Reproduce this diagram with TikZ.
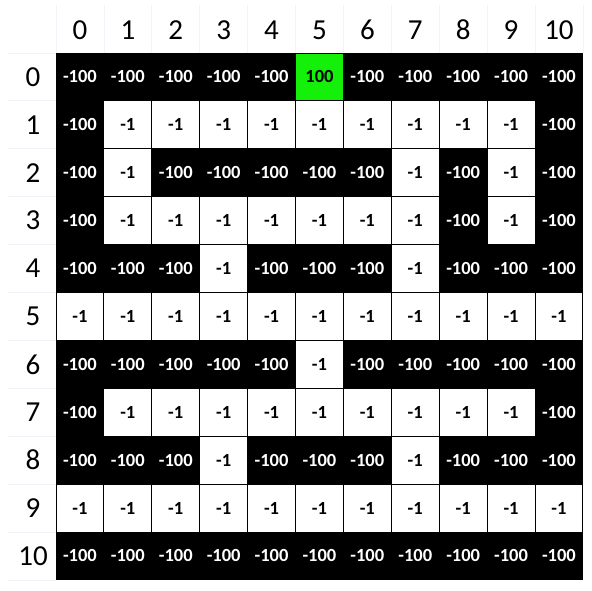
\documentclass[tikz,border=0pt]{standalone}
\usepackage{fontspec}
\setmainfont{Carlito}
\definecolor{goalgreen}{RGB}{20,240,10}
\definecolor{faint}{RGB}{240,243,248}
\def\txtN{-100}
\def\txtW{-1}
\def\txtG{100}
\begin{document}
\begin{tikzpicture}[x=1pt,y=-1pt,
  cellbase/.style={minimum width=47.9pt,minimum height=47.9pt,inner sep=0pt,draw=black,line width=0.9pt,font=\fontsize{18.5}{18.5}\selectfont\bfseries},
  cellN/.style={cellbase,fill=black,text=white},
  cellW/.style={cellbase,fill=white,text=black},
  cellG/.style={cellbase,fill=goalgreen,text=black},
  headtxt/.style={font=\fontsize{29}{29}\selectfont,inner sep=0pt},
  faintline/.style={draw=faint,line width=0.8pt}]
\useasboundingbox (0,0) rectangle (592,591);
\def\cs{47.9}
% faint header grid
\foreach \k in {0,...,11}{
  \draw[faintline] ({56+\cs*\k},5) -- ({56+\cs*\k},53);
  \draw[faintline] (8,{53+\cs*\k}) -- (56,{53+\cs*\k});
}
\foreach \r/\vals in {
 0/{N,N,N,N,N,G,N,N,N,N,N},
 1/{N,W,W,W,W,W,W,W,W,W,N},
 2/{N,W,N,N,N,N,N,W,N,W,N},
 3/{N,W,W,W,W,W,W,W,N,W,N},
 4/{N,N,N,W,N,N,N,W,N,N,N},
 5/{W,W,W,W,W,W,W,W,W,W,W},
 6/{N,N,N,N,N,W,N,N,N,N,N},
 7/{N,W,W,W,W,W,W,W,W,W,N},
 8/{N,N,N,W,N,N,N,W,N,N,N},
 9/{W,W,W,W,W,W,W,W,W,W,W},
 10/{N,N,N,N,N,N,N,N,N,N,N}}{
  \foreach \v [count=\c from 0] in \vals {
    \node[cell\v] (c\r-\c) at ({56+\cs*(\c+0.5)},{53+\cs*(\r+0.5)}) {\csname txt\v\endcsname};
  }
}
\foreach \k in {0,...,10}{
  \node[headtxt] (col\k) at ({56+\cs*(\k+0.5)},30) {\k};
  \node[headtxt] (row\k) at (33,{53+\cs*(\k+0.5)}) {\k};
}
\end{tikzpicture}
\end{document}
